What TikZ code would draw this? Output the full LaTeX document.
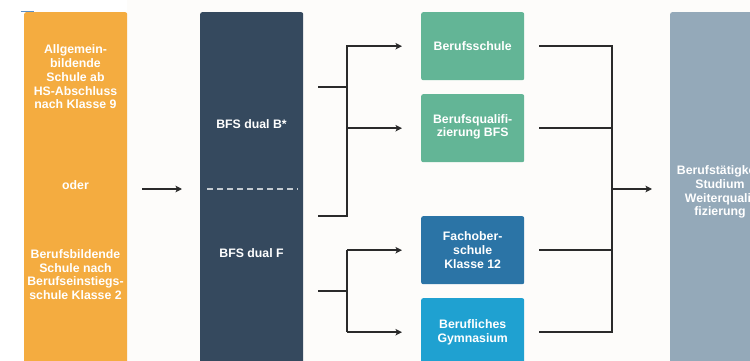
\documentclass[tikz,border=0pt]{standalone}
\usepackage{fontspec}
\setmainfont{Liberation Sans}
\usetikzlibrary{arrows.meta}
\definecolor{orangebox}{HTML}{F4AC40}
\definecolor{darkbox}{HTML}{35495E}
\definecolor{greenbox}{HTML}{63B596}
\definecolor{bluebox}{HTML}{2B74A6}
\definecolor{lightbluebox}{HTML}{1FA1D1}
\definecolor{graybox}{HTML}{94A9B9}
\definecolor{linec}{HTML}{2A2A2A}
\definecolor{bgc}{HTML}{FDFCFA}
\definecolor{dashc}{HTML}{C5CBD1}
\definecolor{markc}{HTML}{5B8FC7}
\begin{document}
\begin{tikzpicture}[x=1pt,y=-1pt,
  box/.style={rounded corners=2pt, inner sep=0pt, anchor=north west, minimum width=103pt},
  txt/.style={text=white, font=\bfseries\fontsize{12.3}{13.7}\selectfont, align=center, inner sep=0pt},
  conn/.style={draw=linec, line width=1.5pt},
  arr/.style={conn, -{Stealth[length=6.5pt,width=6.5pt,inset=1.5pt]}},
  dashline/.style={draw=dashc, line width=2pt, dash pattern=on 6pt off 4pt}]
\useasboundingbox (0,0) rectangle (750,361);
\clip (0,0) rectangle (750,361);
\fill[white] (0,0) rectangle (750,361);
\fill[bgc] (127,0) rectangle (750,361);
\draw[markc, line width=1pt] (21,11.5) -- (34,11.5);
% big boxes
\node[box, fill=orangebox, minimum height=370pt] (o) at (24,12) {};
\node[box, fill=darkbox, minimum height=370pt] (d) at (200,12) {};
\node[box, fill=graybox, minimum width=100pt, minimum height=370pt] (g) at (670,12) {};
% small boxes
\node[box, fill=greenbox, minimum height=68pt] (bs) at (421,12) {};
\node[box, fill=greenbox, minimum height=68pt] (bq) at (421,94) {};
\node[box, fill=bluebox, minimum height=68pt] (fos) at (421,216) {};
\node[box, fill=lightbluebox, minimum height=68pt] (bg) at (421,298) {};
% texts
\node[txt] (o1) at (75.5,77) {Allgemein-\\bildende\\Schule ab\\HS-Abschluss\\nach Klasse 9};
\node[txt] (o2) at (75.5,185) {oder};
\node[txt] (o3) at (75.5,274.5) {Berufsbildende\\Schule nach\\Berufseinstiegs-\\schule Klasse 2};
\node[txt] (d1) at (251.5,124) {BFS dual B*};
\node[txt] (d2) at (251.5,253) {BFS dual F};
\node[txt] at (bs.center) {Berufsschule};
\node[txt] at ([yshift=1.5pt]bq.center) {Berufsqualifi-\\zierung BFS};
\node[txt] at (fos.center) {Fachober-\\schule\\Klasse 12};
\node[txt] at (bg.center) {Berufliches\\Gymnasium};
\node[txt] (g1) at (720,192) {Berufstätigkeit\\Studium\\Weiterquali-\\fizierung};
% dashed separator
\coordinate (mid) at (0,189);
\draw[dashline] ([xshift=7pt]d.west |- mid) -- ([xshift=-6pt]d.east |- mid);
% arrow orange -> dark
\draw[arr, shorten <=15pt, shorten >=18pt] (o.east |- mid) -- (d.west |- mid);
% left brackets
\coordinate (jB1) at (347,87);
\coordinate (jB2) at (347,216);
\coordinate (jF) at (347,291);
\draw[conn, shorten <=15pt] (d.east |- jB1) -- (jB1);
\draw[arr, shorten <=15pt, shorten >=19pt] (d.east |- jB2) -- (jB2) |- (bs.west);
\draw[arr, shorten >=19pt] (jB1 |- bq.west) -- (bq.west);
\draw[conn, shorten <=15pt] (d.east |- jF) -- (jF);
\draw[conn] (jF |- fos.west) -- (jF |- bg.west);
\draw[arr, shorten >=19pt] (jF |- fos.west) -- (fos.west);
\draw[arr, shorten >=19pt] (jF |- bg.west) -- (bg.west);
% right bracket
\coordinate (jR) at (612,189);
\draw[conn, shorten <=15pt, shorten >=15pt] (bs.east) -| (jR |- bg.east) -- (bg.east);
\draw[conn, shorten <=15pt] (bq.east) -- (jR |- bq.east);
\draw[conn, shorten <=15pt] (fos.east) -- (jR |- fos.east);
\draw[arr, shorten >=18pt] (jR) -- (g.west |- jR);
\end{tikzpicture}
\end{document}
